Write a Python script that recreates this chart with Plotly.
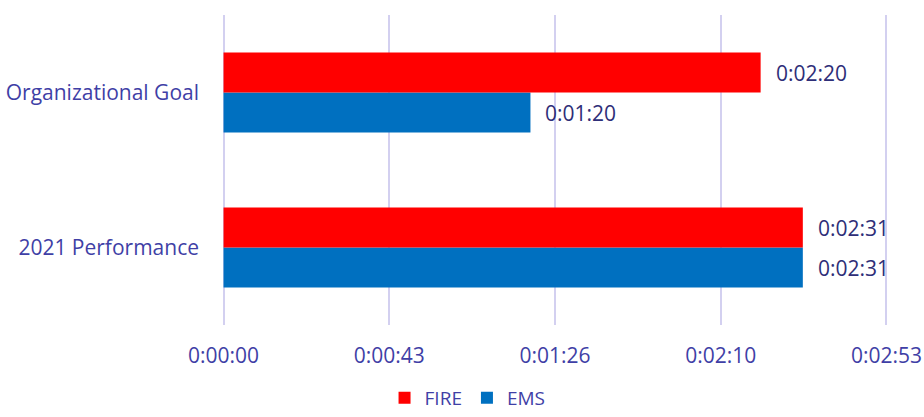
import plotly.graph_objects as go

# Response times in seconds
categories = ["2021 Performance", "Organizational Goal"]
fire_seconds = [151, 140]
ems_seconds = [151, 80]

# Time axis ticks (Excel-style major unit of 0.0005 day = 43.2 s)
tick_values = [0, 43.2, 86.4, 129.6, 172.8]
tick_labels = ["0:00:00", "0:00:43", "0:01:26", "0:02:10", "0:02:53"]

FIRE_COLOR = "#FF0000"
EMS_COLOR = "#0070C0"
AXIS_TEXT = "#3F3FA6"
LABEL_TEXT = "#2E2E78"
GRID = "#D3D0F0"
FONT = "'Open Sans', Lato, sans-serif"
FONT_SIZE = 21

X_MIN, X_MAX = -0.4, 173.2


def hms(seconds):
    s = int(round(seconds))
    return f"{s // 3600}:{(s % 3600) // 60:02d}:{s % 60:02d}"


fig = go.Figure()
# EMS first so it sits below FIRE inside each group
fig.add_trace(go.Bar(name="EMS", y=categories, x=ems_seconds, orientation="h",
                     marker=dict(color=EMS_COLOR, line=dict(width=0))))
fig.add_trace(go.Bar(name="FIRE", y=categories, x=fire_seconds, orientation="h",
                     marker=dict(color=FIRE_COLOR, line=dict(width=0))))

# Value labels placed just past the end of each bar
bar_half = (1 - 0.484) / 4
for i, cat in enumerate(categories):
    for val, off in ((fire_seconds[i], bar_half), (ems_seconds[i], -bar_half)):
        fig.add_annotation(x=val, y=i + off, xref="x", yref="y",
                           text=hms(val), showarrow=False, xanchor="left",
                           yanchor="middle", xshift=13,
                           font=dict(family=FONT, size=FONT_SIZE, color=LABEL_TEXT))

# plot area spans x 222.5..887.5 so that 0 s and 172.8 s land at 224 and 886
fig.update_layout(
    width=924, height=417,
    margin=dict(l=222, r=36, t=15, b=92, autoexpand=False),
    barmode="group", bargap=0.484, bargroupgap=0,
    plot_bgcolor="white", paper_bgcolor="white",
    font=dict(family=FONT, size=FONT_SIZE, color=AXIS_TEXT),
    showlegend=True,
    legend=dict(orientation="h", traceorder="reversed",
                xref="container", yref="container",
                x=0.506, xanchor="center", y=0.0, yanchor="bottom",
                font=dict(family=FONT, size=19, color=AXIS_TEXT),
                itemwidth=30, itemsizing="constant", tracegroupgap=0),
    xaxis=dict(range=[X_MIN, X_MAX], tickvals=tick_values, ticktext=tick_labels,
               automargin=False,
               showgrid=True, gridcolor=GRID, gridwidth=2, zeroline=False,
               showline=False, ticks="", ticklabelstandoff=16,
               tickfont=dict(family=FONT, size=FONT_SIZE, color=AXIS_TEXT)),
    yaxis=dict(type="category", categoryorder="array", categoryarray=categories,
               automargin=False,
               range=[-0.5, 1.5], showgrid=False, zeroline=False, showline=False,
               ticks="", ticklabelstandoff=22,
               tickfont=dict(family=FONT, size=FONT_SIZE, color=AXIS_TEXT)),
)

fig.write_html("out.html")
